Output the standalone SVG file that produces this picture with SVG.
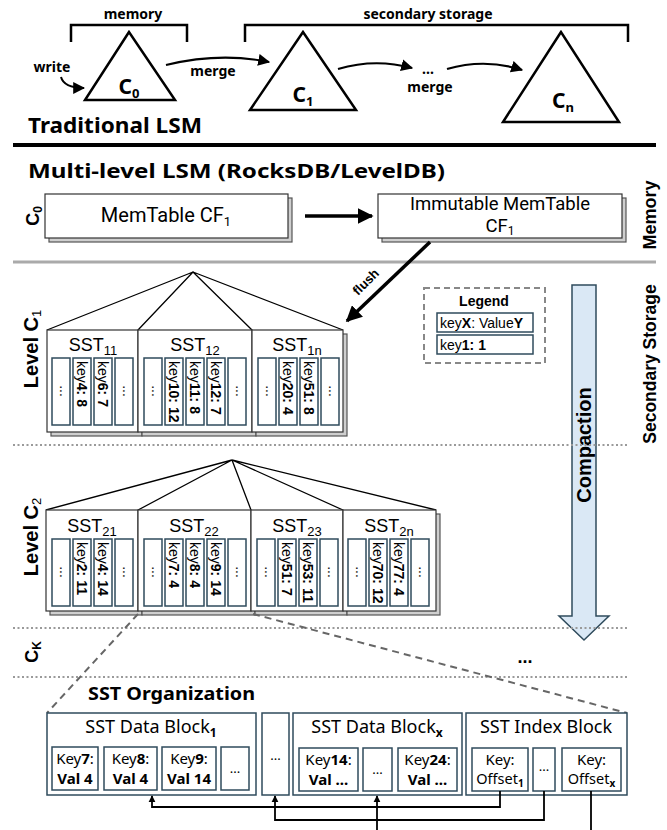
<svg xmlns="http://www.w3.org/2000/svg" width="667" height="830" viewBox="0 0 667 830">
<defs>
<style>
.n{font-family:"Noto Sans","Open Sans",sans-serif}
.a{font-family:"Liberation Sans",Arial,sans-serif}
.r{font-family:Roboto,"Liberation Sans",sans-serif}
.b{font-weight:bold}
.blk{fill:none;stroke:#000;stroke-width:2.5}
.tri{fill:#fff;stroke:#000;stroke-width:2.5;stroke-linejoin:miter}
.ol{fill:#fff;stroke:#2f4b5c;stroke-width:1.5}
.sh{fill:#cfcfcf;stroke:#555;stroke-width:1.2}
.box{fill:#fff;stroke:#333;stroke-width:1.2}
.tree{fill:none;stroke:#000;stroke-width:1.3}
.k{font-family:"Liberation Sans",Arial,sans-serif;font-size:14px}
.sst{font-family:"Liberation Sans",Arial,sans-serif;font-size:18px}
.dot{stroke:#9a9a9a;stroke-width:2;stroke-dasharray:2 2.5}
.dash{stroke:#666;stroke-width:2;stroke-dasharray:7 5;fill:none}
.con{fill:none;stroke:#000;stroke-width:1.8}
</style>
<marker id="mA" markerUnits="userSpaceOnUse" markerWidth="12" markerHeight="12" viewBox="0 0 10 10" refX="9" refY="5" orient="auto"><path d="M0,0 L10,5 L0,10 z" fill="#000"/></marker>
<marker id="mB" markerUnits="userSpaceOnUse" markerWidth="16" markerHeight="16" viewBox="0 0 10 10" refX="9" refY="5" orient="auto"><path d="M0,0 L10,5 L0,10 z" fill="#000"/></marker>
<marker id="mS" markerUnits="userSpaceOnUse" markerWidth="7" markerHeight="8" viewBox="0 0 10 10" refX="9" refY="5" orient="auto"><path d="M0,0 L10,5 L0,10 z" fill="#000"/></marker>
</defs>
<rect width="667" height="830" fill="#fff"/>

<!-- Traditional LSM -->
<g id="traditional">
<text x="133" y="19" class="n b" font-size="14" text-anchor="middle">memory</text>
<path class="blk" d="M71,42 V25 H187 V42"/>
<text x="428" y="19" class="n b" font-size="14" text-anchor="middle">secondary storage</text>
<path class="blk" d="M245,42 V25 H628 V42"/>
<g id="tC0"><polygon class="tri" points="129,32 85,100 175,100"/><text x="129" y="94" class="n b" font-size="21" text-anchor="middle">C<tspan font-size="13" dy="4">0</tspan></text></g>
<g id="tC1"><polygon class="tri" points="303,32 250,110 356,110"/><text x="303" y="102" class="n b" font-size="21" text-anchor="middle">C<tspan font-size="13" dy="4">1</tspan></text></g>
<g id="tCn"><polygon class="tri" points="561,32 503,122 619,122"/><text x="563" y="108" class="n b" font-size="21" text-anchor="middle">C<tspan font-size="13" dy="4">n</tspan></text></g>
<text x="52" y="72" class="n b" font-size="14" text-anchor="middle">write</text>
<text x="213" y="76" class="n b" font-size="14" text-anchor="middle">merge</text>
<text x="428" y="74" class="n b" font-size="14" text-anchor="middle">...</text>
<text x="430" y="92" class="n b" font-size="14" text-anchor="middle">merge</text>
<text x="28" y="133" class="n b" font-size="22" textLength="174" lengthAdjust="spacingAndGlyphs">Traditional LSM</text>
</g>
<g id="topconn">
<path class="blk" style="stroke-width:2" d="M61,77 Q64,88 84,88" marker-end="url(#mA)"/>
<path class="blk" style="stroke-width:2.2" d="M166,65 Q220,52 269,62" marker-end="url(#mA)"/>
<path class="blk" style="stroke-width:2.2" d="M338,69 Q375,58 412,68" marker-end="url(#mA)"/>
<path class="blk" style="stroke-width:2.2" d="M447,69 Q485,58 522,70" marker-end="url(#mA)"/>
</g>
<line x1="13" y1="145" x2="656" y2="145" stroke="#000" stroke-width="4"/>

<!-- Multi-level -->
<text x="28" y="178" class="n b" font-size="20" textLength="417" lengthAdjust="spacingAndGlyphs">Multi-level LSM (RocksDB/LevelDB)</text>
<text transform="translate(39,216) rotate(-90)" class="a b" font-size="18" text-anchor="middle">C<tspan font-size="12" dy="3">0</tspan></text>
<g id="memtable"><rect class="sh" x="49" y="198" width="243" height="44"/><rect class="box" x="45" y="194" width="243" height="44"/><text x="166" y="222" class="r" font-size="20" text-anchor="middle">MemTable CF<tspan font-size="13" dy="4">1</tspan></text></g>
<g id="immutable"><rect class="sh" x="382" y="198" width="244" height="44"/><rect class="box" x="378" y="194" width="244" height="44"/><text x="500" y="210" class="r" font-size="18.5" text-anchor="middle">Immutable MemTable</text><text x="500" y="232" class="r" font-size="18.5" text-anchor="middle">CF<tspan font-size="12" dy="3">1</tspan></text></g>
<text transform="translate(656,215) rotate(-90)" class="a b" font-size="18" text-anchor="middle">Memory</text>
<line x1="13" y1="262" x2="656" y2="262" stroke="#aaa" stroke-width="3"/>
<g id="mlconn">
<line x1="305" y1="216" x2="372" y2="216" stroke="#000" stroke-width="3.5" marker-end="url(#mB)"/>
<line x1="430" y1="242" x2="347" y2="321" stroke="#000" stroke-width="3.5" marker-end="url(#mB)"/>
</g>
<text transform="translate(369,285) rotate(-45)" class="a b" font-size="13" text-anchor="middle">flush</text>

<!-- Legend -->
<g id="legend">
<rect x="424" y="288" width="121" height="75" fill="none" stroke="#888" stroke-width="2" stroke-dasharray="6 4"/>
<text x="484" y="306" class="a b" font-size="14" text-anchor="middle">Legend</text>
<rect class="ol" x="437" y="313" width="96" height="19"/>
<text x="440" y="328" class="a" font-size="14">key<tspan class="b">X</tspan>: Value<tspan class="b">Y</tspan></text>
<rect class="ol" x="437" y="335" width="96" height="19"/>
<text x="440" y="350" class="a" font-size="14">key<tspan class="b">1: 1</tspan></text>
</g>

<!-- Compaction -->
<g id="compaction">
<polygon points="572,285 596,285 596,616 609,616 584,640 559,616 572,616" fill="#dae8f5" stroke="#2f4b5c" stroke-width="1.5"/>
<text transform="translate(591,445) rotate(-90)" class="a b" font-size="20" text-anchor="middle">Compaction</text>
</g>
<text transform="translate(656,364) rotate(-90)" class="a b" font-size="17.5" text-anchor="middle">Secondary Storage</text>

<line class="dot" x1="13" y1="445" x2="628" y2="445"/>
<line class="dot" x1="13" y1="628" x2="628" y2="628"/>
<line class="dot" x1="13" y1="677" x2="628" y2="677"/>

<!-- Level C1 -->
<text transform="translate(38,349) rotate(-90)" class="a b" font-size="20" text-anchor="middle">Level C<tspan font-size="13" font-weight="normal" dy="3">1</tspan></text>
<g id="tree1"><path class="tree" d="M193,272 L47,330 M193,272 L138,330 M193,272 L252,330 M193,272 L343,330"/></g>
<g id="sst11">
<rect class="sh" x="51" y="334" width="91" height="102"/><rect class="box" x="47" y="330" width="91" height="102"/>
<text x="93" y="351" class="sst" text-anchor="middle">SST<tspan font-size="13" dy="4">11</tspan></text>
<rect class="ol" x="52" y="358" width="18" height="67"/><rect class="ol" x="73" y="358" width="18" height="67"/><rect class="ol" x="94" y="358" width="18" height="67"/><rect class="ol" x="115" y="358" width="18" height="67"/>
<text class="k" transform="translate(61,391) rotate(90)" y="1" text-anchor="middle">...</text>
<text class="k" transform="translate(82,361) rotate(90)" y="5">key<tspan class="b">4: 8</tspan></text>
<text class="k" transform="translate(103,361) rotate(90)" y="5">key<tspan class="b">6: 7</tspan></text>
<text class="k" transform="translate(124,391) rotate(90)" y="1" text-anchor="middle">...</text>
</g>
<g id="sst12">
<rect class="sh" x="142" y="334" width="114" height="102"/><rect class="box" x="138" y="330" width="114" height="102"/>
<text x="195" y="351" class="sst" text-anchor="middle">SST<tspan font-size="13" dy="4">12</tspan></text>
<rect class="ol" x="144" y="358" width="18" height="67"/><rect class="ol" x="165" y="358" width="18" height="67"/><rect class="ol" x="186" y="358" width="18" height="67"/><rect class="ol" x="207" y="358" width="18" height="67"/><rect class="ol" x="228" y="358" width="18" height="67"/>
<text class="k" transform="translate(153,391) rotate(90)" y="1" text-anchor="middle">...</text>
<text class="k" transform="translate(174,361) rotate(90)" y="5">key<tspan class="b">10: 12</tspan></text>
<text class="k" transform="translate(195,361) rotate(90)" y="5">key<tspan class="b">11: 8</tspan></text>
<text class="k" transform="translate(216,361) rotate(90)" y="5">key<tspan class="b">12: 7</tspan></text>
<text class="k" transform="translate(237,391) rotate(90)" y="1" text-anchor="middle">...</text>
</g>
<g id="sst1n">
<rect class="sh" x="256" y="334" width="91" height="102"/><rect class="box" x="252" y="330" width="91" height="102"/>
<text x="297" y="351" class="sst" text-anchor="middle">SST<tspan font-size="13" dy="4">1n</tspan></text>
<rect class="ol" x="258" y="358" width="18" height="67"/><rect class="ol" x="279" y="358" width="18" height="67"/><rect class="ol" x="300" y="358" width="18" height="67"/><rect class="ol" x="321" y="358" width="18" height="67"/>
<text class="k" transform="translate(267,391) rotate(90)" y="1" text-anchor="middle">...</text>
<text class="k" transform="translate(288,361) rotate(90)" y="5">key<tspan class="b">20: 4</tspan></text>
<text class="k" transform="translate(309,361) rotate(90)" y="5">key<tspan class="b">51: 8</tspan></text>
<text class="k" transform="translate(330,391) rotate(90)" y="1" text-anchor="middle">...</text>
</g>

<!-- Level C2 -->
<text transform="translate(38,537) rotate(-90)" class="a b" font-size="20" text-anchor="middle">Level C<tspan font-size="13" font-weight="normal" dy="3">2</tspan></text>
<g id="tree2"><path class="tree" d="M232,460 L46,510 M232,460 L138,510 M232,460 L251,510 M232,460 L343,510 M232,460 L436,510"/></g>
<g id="sst21">
<rect class="sh" x="50" y="514" width="92" height="101"/><rect class="box" x="46" y="510" width="92" height="101"/>
<text x="92" y="532" class="sst" text-anchor="middle">SST<tspan font-size="13" dy="4">21</tspan></text>
<rect class="ol" x="52" y="539" width="18" height="67"/><rect class="ol" x="73" y="539" width="18" height="67"/><rect class="ol" x="94" y="539" width="18" height="67"/><rect class="ol" x="115" y="539" width="18" height="67"/>
<text class="k" transform="translate(61,572) rotate(90)" y="1" text-anchor="middle">...</text>
<text class="k" transform="translate(82,542) rotate(90)" y="5">key<tspan class="b">2: 11</tspan></text>
<text class="k" transform="translate(103,542) rotate(90)" y="5">key<tspan class="b">4: 14</tspan></text>
<text class="k" transform="translate(124,572) rotate(90)" y="1" text-anchor="middle">...</text>
</g>
<g id="sst22">
<rect class="sh" x="142" y="514" width="113" height="101"/><rect class="box" x="138" y="510" width="113" height="101"/>
<text x="194" y="532" class="sst" text-anchor="middle">SST<tspan font-size="13" dy="4">22</tspan></text>
<rect class="ol" x="144" y="539" width="18" height="67"/><rect class="ol" x="165" y="539" width="18" height="67"/><rect class="ol" x="186" y="539" width="18" height="67"/><rect class="ol" x="207" y="539" width="18" height="67"/><rect class="ol" x="228" y="539" width="18" height="67"/>
<text class="k" transform="translate(153,572) rotate(90)" y="1" text-anchor="middle">...</text>
<text class="k" transform="translate(174,542) rotate(90)" y="5">key<tspan class="b">7: 4</tspan></text>
<text class="k" transform="translate(195,542) rotate(90)" y="5">key<tspan class="b">8: 4</tspan></text>
<text class="k" transform="translate(216,542) rotate(90)" y="5">key<tspan class="b">9: 14</tspan></text>
<text class="k" transform="translate(237,572) rotate(90)" y="1" text-anchor="middle">...</text>
</g>
<g id="sst23">
<rect class="sh" x="255" y="514" width="92" height="101"/><rect class="box" x="251" y="510" width="92" height="101"/>
<text x="297" y="532" class="sst" text-anchor="middle">SST<tspan font-size="13" dy="4">23</tspan></text>
<rect class="ol" x="257" y="539" width="18" height="67"/><rect class="ol" x="278" y="539" width="18" height="67"/><rect class="ol" x="299" y="539" width="18" height="67"/><rect class="ol" x="320" y="539" width="18" height="67"/>
<text class="k" transform="translate(266,572) rotate(90)" y="1" text-anchor="middle">...</text>
<text class="k" transform="translate(287,542) rotate(90)" y="5">key<tspan class="b">51: 7</tspan></text>
<text class="k" transform="translate(308,542) rotate(90)" y="5">key<tspan class="b">53: 11</tspan></text>
<text class="k" transform="translate(329,572) rotate(90)" y="1" text-anchor="middle">...</text>
</g>
<g id="sst2n">
<rect class="sh" x="347" y="514" width="93" height="101"/><rect class="box" x="343" y="510" width="93" height="101"/>
<text x="389" y="532" class="sst" text-anchor="middle">SST<tspan font-size="13" dy="4">2n</tspan></text>
<rect class="ol" x="348" y="539" width="18" height="67"/><rect class="ol" x="369" y="539" width="18" height="67"/><rect class="ol" x="390" y="539" width="18" height="67"/><rect class="ol" x="411" y="539" width="18" height="67"/>
<text class="k" transform="translate(357,572) rotate(90)" y="1" text-anchor="middle">...</text>
<text class="k" transform="translate(378,542) rotate(90)" y="5">key<tspan class="b">70: 12</tspan></text>
<text class="k" transform="translate(399,542) rotate(90)" y="5">key<tspan class="b">77: 4</tspan></text>
<text class="k" transform="translate(420,572) rotate(90)" y="1" text-anchor="middle">...</text>
</g>

<!-- C_K -->
<text transform="translate(38,652) rotate(-90)" class="a b" font-size="18" text-anchor="middle">C<tspan font-size="12" dy="3">K</tspan></text>
<text x="525" y="663" class="a b" font-size="18" text-anchor="middle">...</text>

<!-- zoom lines -->
<g id="zoomlines">
<path class="dash" d="M138,614 L47,713"/>
<path class="dash" d="M253,614 L627,713"/>
</g>

<!-- SST Organization -->
<text x="88" y="700" class="n b" font-size="18" textLength="167" lengthAdjust="spacingAndGlyphs">SST Organization</text>
<g id="datablock1">
<rect class="ol" x="47" y="713" width="209" height="82"/>
<text x="151" y="733" class="n" font-size="18" text-anchor="middle">SST Data Block<tspan class="b" font-size="12" dy="4">1</tspan></text>
<rect class="ol" x="52" y="747" width="46" height="43"/><rect class="ol" x="104" y="747" width="53" height="43"/><rect class="ol" x="162" y="747" width="54" height="43"/><rect class="ol" x="221" y="747" width="28" height="43"/>
<text x="75" y="764" class="n" font-size="15" text-anchor="middle">Key<tspan class="b">7</tspan>:</text><text x="75" y="784" class="n b" font-size="15" text-anchor="middle">Val 4</text>
<text x="130.5" y="764" class="n" font-size="15" text-anchor="middle">Key<tspan class="b">8</tspan>:</text><text x="130.5" y="784" class="n b" font-size="15" text-anchor="middle">Val 4</text>
<text x="189" y="764" class="n" font-size="15" text-anchor="middle">Key<tspan class="b">9</tspan>:</text><text x="189" y="784" class="n b" font-size="15" text-anchor="middle">Val 14</text>
<text x="235" y="773" class="n" font-size="13" text-anchor="middle">...</text>
</g>
<g id="dotsblock">
<rect class="ol" x="262" y="713" width="27" height="82"/>
<text x="275.5" y="760" class="n" font-size="13" text-anchor="middle">...</text>
</g>
<g id="datablockx">
<rect class="ol" x="293" y="713" width="169" height="82"/>
<text x="377" y="733" class="n" font-size="18" text-anchor="middle">SST Data Block<tspan class="b" font-size="12" dy="4">x</tspan></text>
<rect class="ol" x="299" y="748" width="59" height="43"/><rect class="ol" x="363" y="748" width="29" height="43"/><rect class="ol" x="398" y="748" width="59" height="43"/>
<text x="328.5" y="765" class="n" font-size="15" text-anchor="middle">Key<tspan class="b">14</tspan>:</text><text x="328.5" y="785" class="n b" font-size="15" text-anchor="middle">Val ...</text>
<text x="377.5" y="774" class="n" font-size="13" text-anchor="middle">...</text>
<text x="427.5" y="765" class="n" font-size="15" text-anchor="middle">Key<tspan class="b">24</tspan>:</text><text x="427.5" y="785" class="n b" font-size="15" text-anchor="middle">Val ...</text>
</g>
<g id="indexblock">
<rect class="ol" x="466" y="713" width="161" height="82"/>
<text x="546" y="733" class="n" font-size="18" text-anchor="middle">SST Index Block</text>
<rect class="ol" x="472" y="748" width="56" height="43"/><rect class="ol" x="533" y="748" width="22" height="43"/><rect class="ol" x="562" y="748" width="59" height="43"/>
<text x="500" y="765" class="n" font-size="15" text-anchor="middle">Key:</text><text x="500" y="784" class="n" font-size="14.5" text-anchor="middle">Offset<tspan class="b" font-size="10" dy="3">1</tspan></text>
<text x="544" y="771" class="n" font-size="13" text-anchor="middle">...</text>
<text x="591.5" y="765" class="n" font-size="15" text-anchor="middle">Key:</text><text x="591.5" y="784" class="n" font-size="14.5" text-anchor="middle">Offset<tspan class="b" font-size="10" dy="3">x</tspan></text>
</g>
<g id="indexconn">
<path class="con" d="M500,791 V807 H152 V796" marker-end="url(#mS)"/>
<path class="con" d="M544,791 V820 H275 V796" marker-end="url(#mS)"/>
<path class="con" d="M377,830 V796" marker-end="url(#mS)"/>
<path class="con" d="M591,791 V830"/>
</g>
</svg>
